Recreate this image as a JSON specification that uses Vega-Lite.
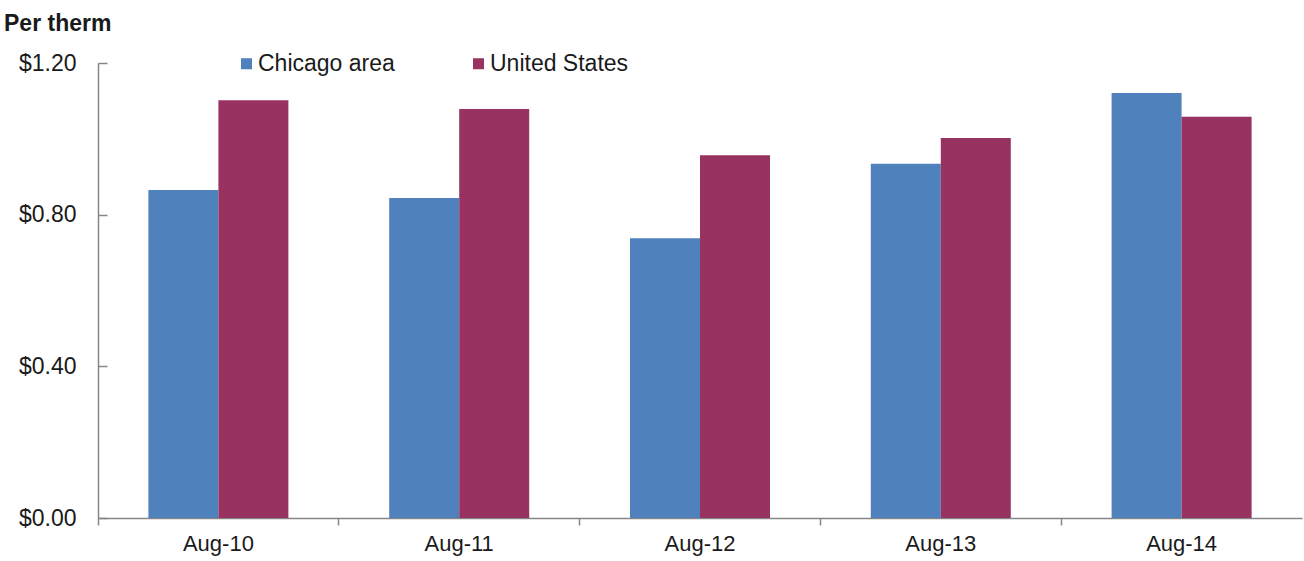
{
  "$schema": "https://vega.github.io/schema/vega-lite/v6.json",
  "width": 1204,
  "height": 455,
  "autosize": {"type": "none"},
  "padding": {"left": 98, "top": 63, "right": 2, "bottom": 43},
  "background": "white",
  "title": {
    "text": "Per therm",
    "anchor": "start",
    "frame": "group",
    "dx": -94,
    "offset": 16,
    "font": "Liberation Sans",
    "fontSize": 23,
    "fontWeight": "bold",
    "color": "#1a1a1a"
  },
  "data": {
    "values": [
      {"month": "Aug-10", "series": "Chicago area", "price": 0.865},
      {"month": "Aug-10", "series": "United States", "price": 1.102},
      {"month": "Aug-11", "series": "Chicago area", "price": 0.844},
      {"month": "Aug-11", "series": "United States", "price": 1.079},
      {"month": "Aug-12", "series": "Chicago area", "price": 0.738},
      {"month": "Aug-12", "series": "United States", "price": 0.957},
      {"month": "Aug-13", "series": "Chicago area", "price": 0.934},
      {"month": "Aug-13", "series": "United States", "price": 1.002},
      {"month": "Aug-14", "series": "Chicago area", "price": 1.121},
      {"month": "Aug-14", "series": "United States", "price": 1.058}
    ]
  },
  "mark": {"type": "bar"},
  "encoding": {
    "x": {
      "field": "month",
      "type": "nominal",
      "scale": {"paddingInner": 0, "paddingOuter": 0},
      "axis": {
        "title": null,
        "labelAngle": 0,
        "bandPosition": 0,
        "tickSize": 7,
        "tickColor": "#868686",
        "domainColor": "#868686",
        "tickWidth": 1.5,
        "domainWidth": 1.5,
        "labelFont": "Liberation Sans",
        "labelFontSize": 22,
        "labelColor": "#1a1a1a",
        "labelPadding": 8
      }
    },
    "xOffset": {
      "field": "series",
      "type": "nominal",
      "scale": {"paddingInner": 0, "paddingOuter": 0.72}
    },
    "y": {
      "field": "price",
      "type": "quantitative",
      "scale": {"domain": [0, 1.2], "nice": false},
      "axis": {
        "title": null,
        "values": [0, 0.4, 0.8, 1.2],
        "format": "$.2f",
        "grid": false,
        "tickSize": -9,
        "tickColor": "#868686",
        "domainColor": "#868686",
        "tickWidth": 1.5,
        "domainWidth": 1.5,
        "labelFont": "Liberation Sans",
        "labelFontSize": 23,
        "labelColor": "#1a1a1a",
        "labelPadding": 31
      }
    },
    "color": {
      "field": "series",
      "type": "nominal",
      "scale": {"domain": ["Chicago area", "United States"], "range": ["#4F81BD", "#983260"]},
      "legend": {
        "title": null,
        "orient": "none",
        "legendX": 137,
        "legendY": -11,
        "direction": "horizontal",
        "columns": 2,
        "symbolType": "square",
        "symbolSize": 121,
        "symbolStrokeWidth": 0,
        "labelFont": "Liberation Sans",
        "labelFontSize": 23,
        "labelColor": "#1a1a1a",
        "labelOffset": 0,
        "columnPadding": 72
      }
    }
  },
  "config": {"view": {"stroke": null}}
}
